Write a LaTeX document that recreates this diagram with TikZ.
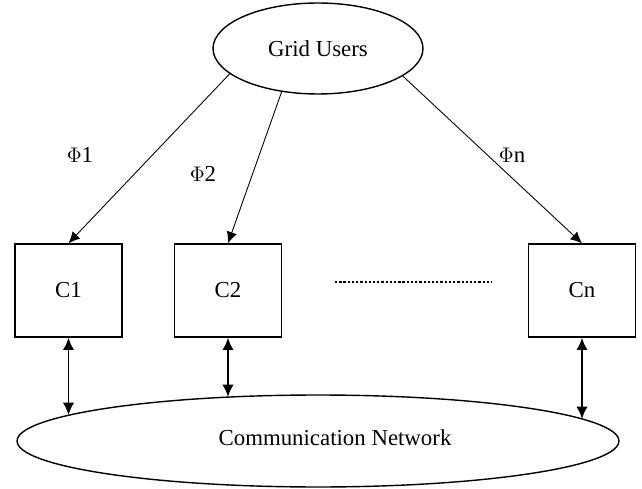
\documentclass[tikz,border=0pt]{standalone}
\usepackage{fontspec}
\setmainfont{Liberation Serif}
\usetikzlibrary{shapes.geometric,arrows.meta}
\tikzset{
	box/.style={draw, line width=0.8pt, minimum width=2.14cm, minimum height=1.86cm, inner sep=0pt},
	oval/.style={draw, ellipse, line width=0.8pt, inner sep=0pt},
	feed/.style={line width=0.5pt, -{Latex[length=6.5pt,width=6pt]}},
	link/.style={line width=1.1pt, {Latex[length=7pt,width=6.5pt]}-{Latex[length=7pt,width=6.5pt]}},
}

\begin{document}
\begin{tikzpicture}[x=0.02cm, y=-0.02cm, font=\fontsize{13}{15}\selectfont]
			%%%%% START %%%%%
			\useasboundingbox (0,0) rectangle (642,489);
			
			\node[oval, minimum width=4.2cm, minimum height=1.82cm] (users) at (318,48.5) {Grid Users};
			
			\node[box] (c1) at (68.5,290.5) {C1};
			\node[box] (c2) at (228,290.5) {C2};
			\node[box] (cn) at (582,290.5) {Cn};
			
			\node[oval, minimum width=12.04cm, minimum height=1.84cm] (net) at (318,441) {};
			\node (netlabel) at (335,438) {Communication Network};
			
			\node (phi1) at (80,155) {$\Phi$1};
			\node (phi2) at (203,174) {$\Phi$2};
			\node (phin) at (512,155) {$\Phi$n};
			
			\draw[feed] (users.196) -- (c1.north);
			\draw[feed] (users.230) -- (c2.north);
			\draw[feed] (users.342) -- (cn.north);
			
			\draw[line width=1.6pt, dash pattern=on 1.3pt off 1.1pt] (335,282) -- (492,282);
			
			\coordinate (n1) at (68.5,415);
			\coordinate (n2) at (228,397);
			\coordinate (nn) at (582,419);
			\draw[link] (c1.south) -- (n1);
			\draw[link] (c2.south) -- (n2);
			\draw[link] (cn.south) -- (nn);
			%%%%% END %%%%%
\end{tikzpicture}
\end{document}
